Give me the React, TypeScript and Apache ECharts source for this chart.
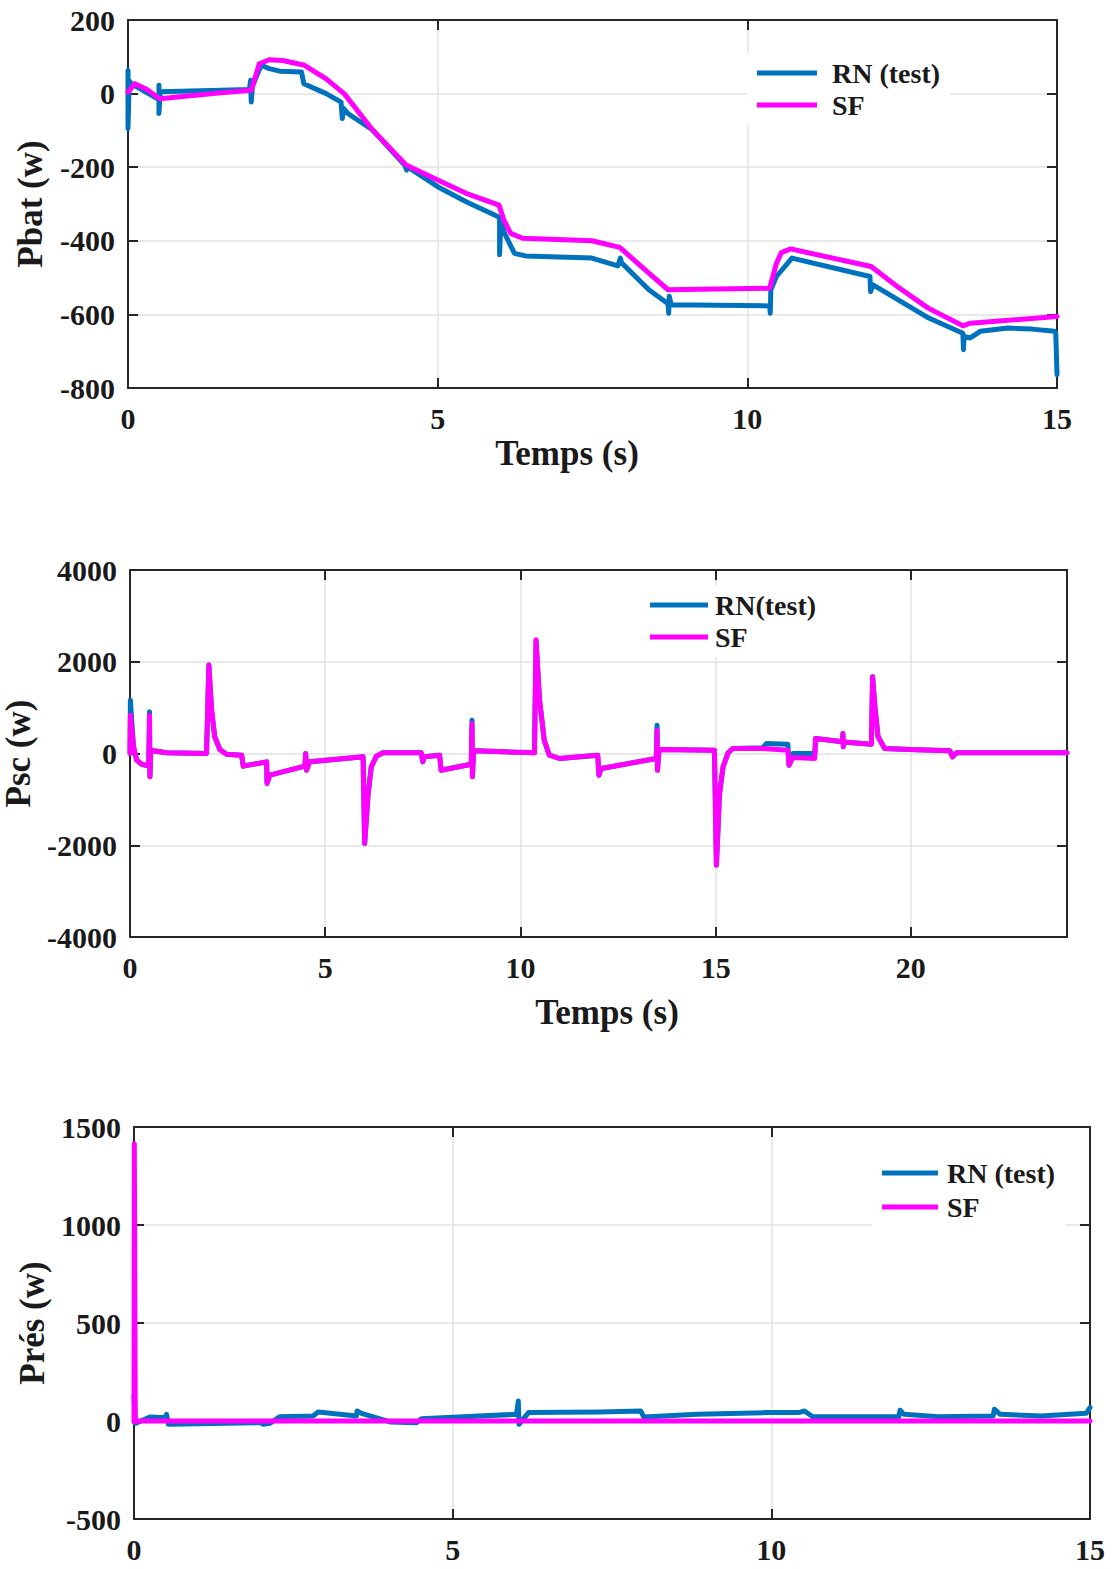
import React, { useEffect, useRef } from "react";
import * as echarts from "echarts";

// ---------- Data ----------
const legendNames1 = ["RN (test)", "SF"];
const legendNames2 = ["RN(test)", "SF"];
const legendNames3 = ["RN (test)", "SF"];

const axisTitles = {
  x1: "Temps (s)",
  y1: "Pbat (w)",
  x2: "Temps (s)",
  y2: "Psc (w)",
  y3: "Prés (w)",
};

// axis ranges: [min, max, interval]
const pbatX = [0, 15, 5];
const pbatY = [-800, 200, 200];
const pscX = [0, 24, 5];
const pscY = [-4000, 4000, 2000];
const presX = [0, 15, 5];
const presY = [-500, 1500, 500];

const pbatSF: [number, number][] = [
  [0, 4], [0.11, 27], [0.3, 12], [0.51, -14], [1.0, -6], [1.5, 2], [1.99, 9],
  [2.12, 81], [2.28, 92], [2.5, 90], [2.85, 77], [3.2, 40], [3.49, 0],
  [3.95, -99], [4.49, -194], [5.0, -235], [5.46, -271], [5.99, -303],
  [6.07, -344], [6.18, -380], [6.37, -393], [7.49, -400], [7.94, -418],
  [8.41, -488], [8.72, -533], [10.36, -529], [10.47, -461], [10.55, -432],
  [10.7, -422], [12.0, -470], [12.42, -524], [12.92, -583], [13.48, -631],
  [13.6, -624], [15.0, -606],
];

const pbatRN: [number, number][] = [
  [0, 20], [0, 63], [0, -95], [0.02, 35], [0.05, 27], [0.24, 9], [0.5, -16],
  [0.5, 23], [0.5, -54], [0.52, 5], [1.0, 7], [1.5, 9], [1.96, 11], [1.98, 36],
  [1.99, -23], [2.01, 20], [2.07, 45], [2.15, 77], [2.28, 68], [2.45, 61],
  [2.8, 59], [2.84, 27], [3.2, 0], [3.44, -23], [3.46, -68], [3.48, -40],
  [3.55, -54], [3.95, -99], [4.47, -195], [4.5, -208], [4.52, -200],
  [5.0, -253], [5.46, -294], [5.97, -334], [6.0, -340], [6.0, -438],
  [6.02, -345], [6.08, -380], [6.24, -434], [6.42, -441], [7.49, -447],
  [7.91, -468], [7.95, -447], [7.97, -460], [8.41, -533], [8.72, -571],
  [8.73, -597], [8.74, -551], [8.77, -574], [10.36, -577], [10.37, -597],
  [10.38, -533], [10.47, -497], [10.72, -447], [11.98, -497], [11.99, -538],
  [12.03, -520], [12.93, -610], [13.48, -651], [13.49, -696], [13.5, -660],
  [13.6, -664], [13.76, -646], [14.21, -637], [14.6, -640], [14.96, -646],
  [14.98, -650], [15.0, -764],
];

const pscSF: [number, number][] = [
  [0, 0], [0.01, 836], [0.09, 145], [0.17, -145], [0.3, -233], [0.48, -276],
  [0.5, 836], [0.51, -509], [0.53, 73], [0.6, 60], [0.94, 15], [1.96, 0],
  [2.02, 1927], [2.09, 945], [2.17, 364], [2.3, 87], [2.47, -15], [2.86, -36],
  [2.9, -276], [3.5, -182], [3.51, -654], [3.58, -473], [4.48, -276], [4.5, 0],
  [4.52, -364], [4.6, -182], [5.97, -73], [6.01, -1963], [6.1, -873],
  [6.18, -291], [6.31, -58], [6.48, 15], [7.46, 15], [7.5, -182], [7.54, -73],
  [7.93, -36], [7.97, -364], [8.74, -233], [8.76, 654], [8.77, -509],
  [8.8, 40], [8.87, 58], [10.36, 15], [10.4, 2472], [10.49, 1163],
  [10.61, 291], [10.74, -36], [11.0, -109], [11.98, -36], [12.01, -473],
  [12.07, -327], [13.48, -109], [13.5, 509], [13.51, -364], [13.55, 80],
  [13.6, 87], [14.97, 73], [15.02, -2436], [15.1, -873], [15.19, -291],
  [15.32, 15], [15.44, 109], [16.21, 110], [16.85, 73], [16.88, -255],
  [16.98, -87], [17.54, -109], [17.56, 327], [18.25, 255], [18.26, 436],
  [18.27, 145], [18.28, 250], [18.99, 204], [19.02, 1672], [19.08, 1018],
  [19.16, 364], [19.33, 109], [19.97, 87], [21.0, 58], [21.07, -73],
  [21.17, 15], [24, 15],
];

const pscRN: [number, number][] = [
  [0, 0], [0.01, 1163], [0.09, 145], [0.17, -145], [0.3, -233], [0.48, -276],
  [0.5, 909], [0.51, -509], [0.53, 73], [0.6, 60], [0.94, 15], [1.96, 0],
  [2.02, 1927], [2.09, 945], [2.17, 364], [2.3, 87], [2.47, -15], [2.86, -36],
  [2.9, -276], [3.5, -182], [3.51, -654], [3.58, -473], [4.48, -276], [4.5, 0],
  [4.52, -364], [4.6, -182], [5.97, -73], [6.01, -1963], [6.1, -873],
  [6.18, -291], [6.31, -58], [6.48, 15], [7.46, 15], [7.5, -182], [7.54, -73],
  [7.93, -36], [7.97, -364], [8.74, -233], [8.76, 727], [8.77, -509],
  [8.8, 40], [8.87, 58], [10.36, 15], [10.4, 2472], [10.49, 1163],
  [10.61, 291], [10.74, -36], [11.0, -109], [11.98, -36], [12.01, -473],
  [12.07, -327], [13.48, -109], [13.5, 618], [13.51, -364], [13.55, 80],
  [13.6, 87], [14.97, 73], [15.02, -2436], [15.1, -873], [15.19, -291],
  [15.32, 15], [15.44, 109], [16.21, 124], [16.3, 218], [16.85, 204],
  [16.88, -255], [16.98, 0], [17.54, 0], [17.56, 327], [18.25, 255],
  [18.26, 436], [18.27, 145], [18.28, 250], [18.99, 204], [19.02, 1672],
  [19.08, 1018], [19.16, 364], [19.33, 109], [19.97, 87], [21.0, 58],
  [21.07, -73], [21.17, 15], [24, 15],
];

const presSF: [number, number][] = [
  [0, -5], [0.005, 1415], [0.02, 0], [15, 0],
];

const presRN: [number, number][] = [
  [0, 130], [0.02, -12], [0.25, 20], [0.49, 17], [0.51, 34], [0.54, -17],
  [1.98, -9], [2.03, -17], [2.13, -12], [2.29, 22], [2.81, 26], [2.89, 46],
  [3.49, 26], [3.5, 51], [3.57, 39], [4.02, -5], [4.43, -9], [4.51, 12],
  [6.0, 34], [6.03, 102], [6.04, -17], [6.19, 43], [7.31, 46], [7.95, 51],
  [8.0, 20], [8.84, 34], [9.92, 43], [10.43, 43], [10.52, 51], [10.65, 22],
  [12.0, 22], [12.02, 55], [12.08, 34], [12.62, 22], [13.48, 26], [13.5, 60],
  [13.59, 34], [14.23, 26], [14.94, 39], [15, 68],
];

// ---------- Styling ----------
const FONT = "'Liberation Serif', 'Times New Roman', serif";
const BLUE = "#0072BD";
const MAGENTA = "#FF00FF";
const AXIS_COLOR = "#262626";
const GRID_COLOR = "#e2e2e2";
const TEXT_COLOR = "#1a1a1a";

function axesFor(
  gi: number,
  xr: number[],
  yr: number[],
  yName: string,
  yNameGap: number
) {
  const lineStyle = { color: AXIS_COLOR, width: 2 };
  const tick = { show: true, inside: true, length: 10, lineStyle: { color: AXIS_COLOR, width: 2 } };
  const label = {
    fontFamily: FONT,
    fontWeight: "bold" as const,
    fontSize: 30,
    color: TEXT_COLOR,
    formatter: (v: number) => String(v),
  };
  const nameStyle = { fontFamily: FONT, fontWeight: "bold" as const, fontSize: 35, color: TEXT_COLOR };
  const xAxes = [
    {
      gridIndex: gi,
      type: "value",
      min: xr[0],
      max: xr[1],
      interval: xr[2],
      position: "bottom",
      axisLine: { show: true, onZero: false, lineStyle },
      axisTick: tick,
      axisLabel: { ...label, margin: 15, showMaxLabel: xr[1] % xr[2] === 0 },
      splitLine: { show: true, lineStyle: { color: GRID_COLOR, width: 1.5 } },
    },
    {
      gridIndex: gi,
      type: "value",
      min: xr[0],
      max: xr[1],
      interval: xr[2],
      position: "top",
      axisLine: { show: true, onZero: false, lineStyle },
      axisTick: tick,
      axisLabel: { show: false },
      splitLine: { show: false },
    },
  ];
  const yAxes = [
    {
      gridIndex: gi,
      type: "value",
      min: yr[0],
      max: yr[1],
      interval: yr[2],
      position: "left",
      axisLine: { show: true, onZero: false, lineStyle },
      axisTick: tick,
      axisLabel: { ...label, margin: 13 },
      splitLine: { show: true, lineStyle: { color: GRID_COLOR, width: 1.5 } },
      name: yName,
      nameLocation: "middle",
      nameGap: yNameGap,
      nameTextStyle: nameStyle,
    },
    {
      gridIndex: gi,
      type: "value",
      min: yr[0],
      max: yr[1],
      interval: yr[2],
      position: "right",
      axisLine: { show: true, onZero: false, lineStyle },
      axisTick: tick,
      axisLabel: { show: false },
      splitLine: { show: false },
    },
  ];
  return { xAxes, yAxes };
}

function lineSeries(name: string, data: [number, number][], color: string, gi: number) {
  return {
    name,
    type: "line",
    xAxisIndex: gi * 2,
    yAxisIndex: gi * 2,
    data,
    showSymbol: false,
    symbol: "none",
    color,
    lineStyle: { color, width: 5, join: "round", cap: "round" },
    clip: true,
    z: color === MAGENTA ? 3 : 2,
  };
}

function legendFor(names: string[], left: number, top: number, itemW: number, textPad: number, lineH: number) {
  return {
    orient: "vertical",
    left,
    top,
    data: names,
    icon: "rect",
    itemWidth: itemW,
    itemHeight: 5,
    itemGap: 2,
    padding: [5, 10, 5, 10],
    backgroundColor: "#ffffff",
    selectedMode: false,
    textStyle: {
      fontFamily: FONT,
      fontWeight: "bold",
      fontSize: 28,
      color: TEXT_COLOR,
      lineHeight: lineH,
      padding: [0, 0, 0, textPad],
    },
  };
}

function titleText(text: string, x: number, y: number) {
  return {
    type: "text",
    x,
    y,
    style: {
      text,
      fontFamily: FONT,
      fontWeight: "bold",
      fontSize: 35,
      fill: TEXT_COLOR,
      align: "center",
      verticalAlign: "middle",
    },
  };
}

export default function App() {
  const ref = useRef<HTMLDivElement>(null);

  useEffect(() => {
    document.body.style.margin = "0";
    if (!ref.current) return;
    const chart = echarts.init(ref.current, undefined, { renderer: "svg" });

    const a1 = axesFor(0, pbatX, pbatY, axisTitles.y1, 80);
    const a2 = axesFor(1, pscX, pscY, axisTitles.y2, 86);
    const a3 = axesFor(2, presX, presY, axisTitles.y3, 84);

    const gridBase = { containLabel: false, outerBoundsMode: "none" };

    chart.setOption({
      animation: false,
      backgroundColor: "#ffffff",
      grid: [
        { ...gridBase, left: 128, top: 20, width: 929, height: 368 },
        { ...gridBase, left: 130, top: 570, width: 937, height: 367 },
        { ...gridBase, left: 134, top: 1127, width: 956, height: 392 },
      ],
      xAxis: [...a1.xAxes, ...a2.xAxes, ...a3.xAxes],
      yAxis: [...a1.yAxes, ...a2.yAxes, ...a3.yAxes],
      legend: [
        legendFor(legendNames1, 747, 53, 60, 10, 30),
        legendFor(legendNames2, 640, 585, 58, 2, 30),
        legendFor(legendNames3, 872, 1152, 56, 4, 32),
      ],
      graphic: [
        titleText(axisTitles.x1, 567, 453),
        titleText(axisTitles.x2, 607, 1012),
      ],
      series: [
        lineSeries(legendNames1[0], pbatRN, BLUE, 0),
        lineSeries(legendNames1[1], pbatSF, MAGENTA, 0),
        lineSeries(legendNames2[0], pscRN, BLUE, 1),
        lineSeries(legendNames2[1], pscSF, MAGENTA, 1),
        lineSeries(legendNames3[0], presRN, BLUE, 2),
        lineSeries(legendNames3[1], presSF, MAGENTA, 2),
      ],
    });

    return () => {
      chart.dispose();
    };
  }, []);

  return <div ref={ref} style={{ width: 1114, height: 1569 }} />;
}
